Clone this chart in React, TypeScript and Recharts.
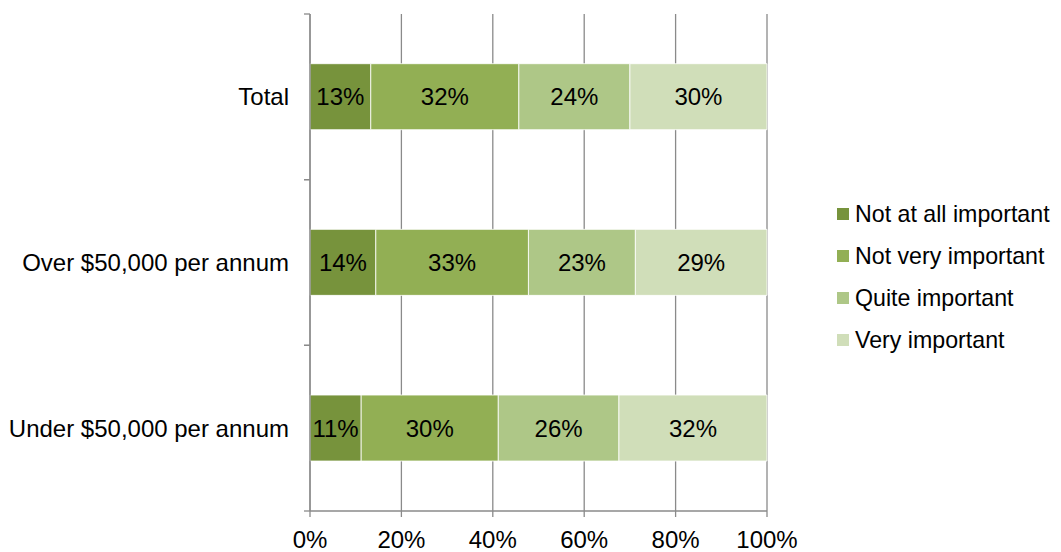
import React from 'react';
import {
  BarChart,
  Bar,
  XAxis,
  YAxis,
  CartesianGrid,
  Legend,
  LabelList
} from 'recharts';

const categories = ['Total', 'Over $50,000 per annum', 'Under $50,000 per annum'];
const notAtAll = [13.3, 14.4, 11.2];
const notVery = [32.4, 33.4, 30.0];
const quite = [24.3, 23.4, 26.4];
const very = [30.0, 28.8, 32.4];
const xTicks = [0, 20, 40, 60, 80, 100];

const seriesNames = ['Not at all important', 'Not very important', 'Quite important', 'Very important'];
const seriesKeys = ['notAtAll', 'notVery', 'quite', 'very'];
const colors = ['#77933C', '#92AF54', '#AEC787', '#D0DEB9'];

const axisColor = '#8a8a8a';
const font = '"Liberation Sans", Arial, sans-serif';

const data = categories.map((name, i) => ({
  name,
  notAtAll: notAtAll[i],
  notVery: notVery[i],
  quite: quite[i],
  very: very[i]
}));

const CategoryTick: React.FC<any> = ({ x, y, payload }) => {
  const half = payload.offset ?? 0;
  return (
    <g>
      <line x1={x - 6} x2={x} y1={y - half} y2={y - half} stroke={axisColor} strokeWidth={1.3} />
      <line x1={x - 6} x2={x} y1={y + half} y2={y + half} stroke={axisColor} strokeWidth={1.3} />
      <text x={x - 21} y={y} dy="0.36em" textAnchor="end" fontSize={24} fill="#000" fontFamily={font}>
        {payload.value}
      </text>
    </g>
  );
};

const LegendList: React.FC<any> = ({ payload }) => (
  <div style={{ fontFamily: font, fontSize: 23.2, color: '#000', whiteSpace: 'nowrap' }}>
    {(payload || []).map((item: any) => (
      <div key={item.value} style={{ height: 42, display: 'flex', alignItems: 'center' }}>
        <span style={{ width: 12, height: 12, background: item.color, marginRight: 6, display: 'inline-block' }} />
        <span>{item.value}</span>
      </div>
    ))}
  </div>
);

const App: React.FC = () => {
  return (
    <BarChart
      width={1053}
      height={544}
      data={data}
      layout="vertical"
      barCategoryGap="30%"
      margin={{ top: 6, right: 294, bottom: 0, left: 0 }}>
      <CartesianGrid horizontal={false} stroke={axisColor} strokeWidth={1.3} />
      <XAxis
        type="number"
        domain={[0, 100]}
        ticks={xTicks}
        interval={0}
        tickFormatter={(v) => `${v}%`}
        height={41}
        tickSize={6}
        tickMargin={14}
        stroke={axisColor}
        strokeWidth={1.3}
        tick={{ fill: '#000', fontSize: 24, fontFamily: font }}
      />
      <YAxis
        type="category"
        dataKey="name"
        width={302}
        tickSize={0}
        tickMargin={0}
        stroke={axisColor}
        strokeWidth={1.3}
        tick={<CategoryTick />}
      />
      <Legend
        layout="vertical"
        verticalAlign="middle"
        align="center"
        wrapperStyle={{ left: 829, top: 185, width: 224 }}
        content={<LegendList />}
      />
      {seriesKeys.map((key, i) => (
        <Bar
          key={key}
          dataKey={key}
          name={seriesNames[i]}
          stackId="a"
          fill={colors[i]}
          stroke="#ffffff"
          strokeWidth={0.8}
          isAnimationActive={false}>
          <LabelList
            dataKey={key}
            position="center"
            formatter={(v: any) => `${Math.round(Number(v))}%`}
            fill="#000"
            fontSize={24}
            fontFamily={font}
          />
        </Bar>
      ))}
    </BarChart>
  );
};

export default App;
